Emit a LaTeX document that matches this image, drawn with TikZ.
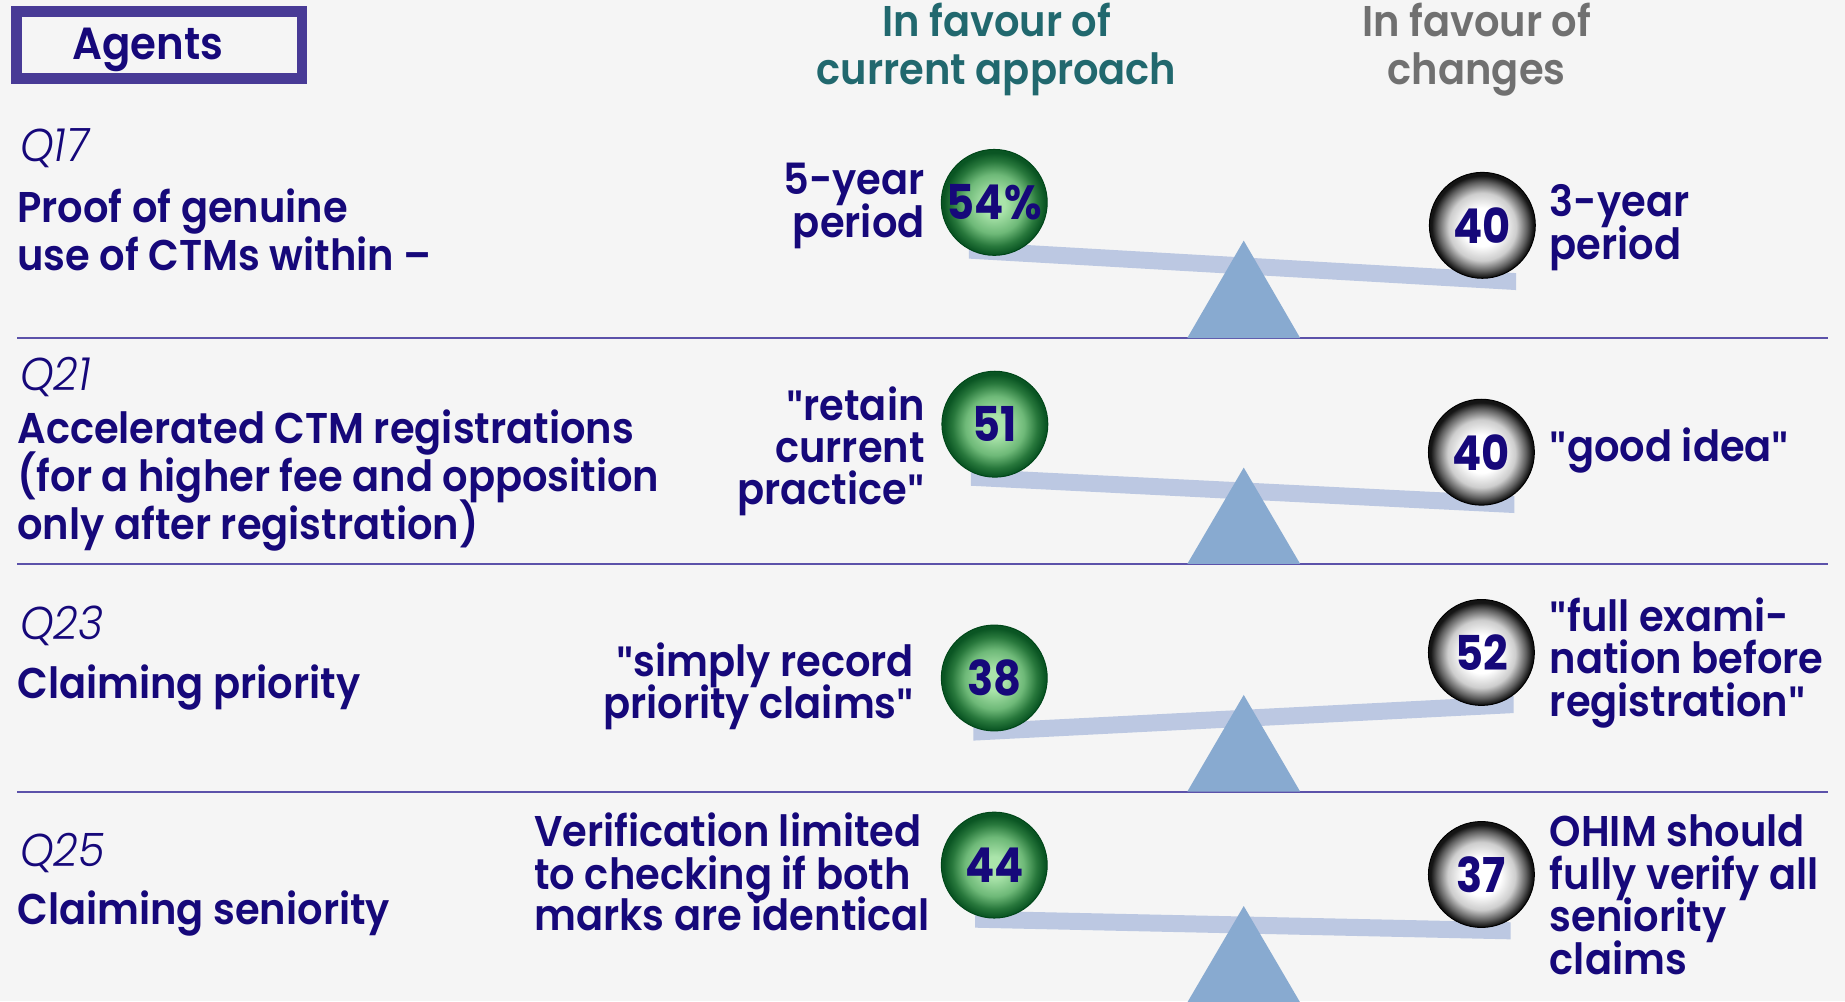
\documentclass[tikz,border=0pt]{standalone}
\usepackage{fontspec}
\setmainfont{Poppins}[FakeStretch=0.93, BoldFont={Poppins SemiBold}, ItalicFont={Poppins Light Italic}]
\newfontfamily\numfamily{Poppins Bold}[FakeStretch=0.9]
\newfontfamily\quotefont{Liberation Sans}[FakeStretch=0.85]
\definecolor{navy}{RGB}{22,8,122}
\definecolor{hdteal}{RGB}{33,104,110}
\definecolor{hdgray}{RGB}{112,112,112}
\definecolor{boxcol}{RGB}{72,58,150}
\definecolor{sepcol}{RGB}{92,82,170}
\definecolor{beamcol}{RGB}{188,200,226}
\definecolor{fulcol}{RGB}{136,170,208}
\definecolor{bgcol}{RGB}{245,245,245}
\definecolor{gA}{RGB}{170,228,170}
\definecolor{gB}{RGB}{110,185,120}
\definecolor{gC}{RGB}{40,120,60}
\definecolor{gD}{RGB}{10,85,35}
\definecolor{gE}{RGB}{0,70,25}
\definecolor{kB}{RGB}{205,205,205}
\definecolor{kC}{RGB}{95,95,95}
\definecolor{kD}{RGB}{20,20,20}
\pgfdeclareradialshading{greenball}{\pgfpoint{0bp}{-1bp}}{color(0bp)=(gA); color(5bp)=(gA); color(14bp)=(gB); color(20bp)=(gC); color(24bp)=(gD); color(50bp)=(gD)}
\pgfdeclareradialshading{grayball}{\pgfpoint{0bp}{-1bp}}{color(0bp)=(white); color(9bp)=(white); color(16bp)=(kB); color(21bp)=(kC); color(24bp)=(kD); color(50bp)=(kD)}
\newcommand{\bodyfont}{\fontsize{43}{43}\selectfont\bfseries}
\newcommand{\agentfont}{\fontsize{45}{45}\selectfont\bfseries}
\newcommand{\numfont}{\fontsize{48}{48}\selectfont\numfamily}
\newcommand{\qlabfont}{\fontsize{46}{46}\selectfont\itshape}
\newcommand{\dq}{{\quotefont\bfseries"}}
\tikzset{
  ltext/.style={anchor=base west, inner sep=0pt, text=navy, font=\bodyfont, text height=31pt, text depth=0pt},
  rtext/.style={anchor=base east, inner sep=0pt, text=navy, font=\bodyfont, text height=31pt, text depth=0pt},
  qlab/.style={anchor=base west, inner sep=0pt, text=navy, font=\qlabfont},
  hteal/.style={anchor=base, inner sep=0pt, text=hdteal, font=\bodyfont, text height=31pt, text depth=0pt},
  hgray/.style={anchor=base, inner sep=0pt, text=hdgray, font=\bodyfont, text height=31pt, text depth=0pt},
  agentsty/.style={anchor=base, inner sep=0pt, text=navy, font=\agentfont},
  sepline/.style={draw=sepcol, line width=2pt},
  beamsty/.style={fill=beamcol},
  fulcrum/.style={fill=fulcol},
  gball/.style={circle, minimum size=105.9pt, inner sep=0pt, shading=greenball, draw=gE, line width=1pt, text=navy, font=\numfont},
  kball/.style={circle, minimum size=105.9pt, inner sep=0pt, shading=grayball, draw=black, line width=1pt, text=navy, font=\numfont}
}
\begin{document}
\begin{tikzpicture}[x=1.1767pt,y=-1.1767pt]
\fill[bgcol] (0,0) rectangle (1568,851);
\useasboundingbox (0,0) rectangle (1568,851);
% title box
\draw[boxcol, line width=10.6pt] (13.85,9.6) rectangle (256.7,66.7);
\node[agentsty] (agents) at (125.6,50.4) {Agents};
% headers
\node[hteal] (hcurA) at (847,30.6) {In favour of};
\node[hteal] (hcurB) at (847,71.4) {current approach};
\node[hgray] (hchgA) at (1255,30.6) {In favour of};
\node[hgray] (hchgB) at (1255,71.4) {changes};
% separators
\draw[sepline] (14.6,287.3) -- (1553.6,287.3);
\draw[sepline] (14.6,479.3) -- (1553.6,479.3);
\draw[sepline] (14.6,672.8) -- (1553.6,672.8);
% left column
\node[qlab] (qA) at (17,137.5) {Q17};
\node[ltext] (tA1) at (14.6,189) {Proof of genuine};
\node[ltext] (tA2) at (14.6,230) {use of CTMs within \textendash};
\node[qlab] (qB) at (17,332) {Q21};
\node[ltext] (tB1) at (14.6,377) {Accelerated CTM registrations};
\node[ltext] (tB2) at (14.6,418) {(for a higher fee and opposition};
\node[ltext] (tB3) at (14.6,458.5) {only after registration)};
\node[qlab] (qC) at (17,543.6) {Q23};
\node[ltext] (tC1) at (14.6,593.7) {Claiming priority};
\node[qlab] (qD) at (17,736) {Q25};
\node[ltext] (tD1) at (14.6,786) {Claiming seniority};
% beams
\fill[beamsty] (823.5,205.4) -- (1288.5,232.1) -- (1288.5,246.5) -- (823.5,219.8) -- cycle;
\fill[beamsty] (825,398.5) -- (1287,421.5) -- (1287,436) -- (825,412.8) -- cycle;
\fill[beamsty] (827.3,615) -- (1286.3,591.5) -- (1286.3,606) -- (827.3,629.4) -- cycle;
\fill[beamsty] (828.8,774) -- (1283.8,783.8) -- (1283.8,798.3) -- (828.8,788.4) -- cycle;
% fulcrums
\fill[fulcrum] (1009,287.3) -- (1057,204.5) -- (1105,287.3) -- cycle;
\fill[fulcrum] (1009,479.3) -- (1057,397.4) -- (1105,479.3) -- cycle;
\fill[fulcrum] (1009,672.8) -- (1057,590.6) -- (1105,672.8) -- cycle;
\fill[fulcrum] (1009,852) -- (1057,770) -- (1105,852) -- cycle;
% balls
\node[gball] (gA17) at (845,172) {54\%};
\node[kball] (kA17) at (1259.8,191.5) {40};
\node[gball] (gB21) at (845.5,360.5) {51};
\node[kball] (kB21) at (1259,384.3) {40};
\node[gball] (gC23) at (845,576.2) {38};
\node[kball] (kC23) at (1259,554.5) {52};
\node[gball] (gD25) at (845,735.2) {44};
\node[kball] (kD25) at (1259,743.2) {37};
% middle labels
\node[rtext] (mA1) at (786,165.7) {5-year};
\node[rtext] (mA2) at (786,201.7) {period};
\node[rtext] (mB1) at (786,357) {\dq retain};
\node[rtext] (mB2) at (786,393) {current};
\node[rtext] (mB3) at (786,429) {practice\dq};
\node[rtext] (mC1) at (777,575) {\dq simply record};
\node[rtext] (mC2) at (777,611) {priority claims\dq};
\node[ltext] (mD1) at (454,719) {Verification limited};
\node[ltext] (mD2) at (454,755.7) {to checking if both};
\node[ltext] (mD3) at (454,791) {marks are identical};
% right labels
\node[ltext] (rA1) at (1317,184.2) {3-year};
\node[ltext] (rA2) at (1317,220.4) {period};
\node[ltext] (rB1) at (1317,392.3) {\dq good idea\dq};
\node[ltext] (rC1) at (1317,536.5) {\dq full exami-};
\node[ltext] (rC2) at (1317,572.5) {nation before};
\node[ltext] (rC3) at (1317,608.5) {registration\dq};
\node[ltext] (rD1) at (1317,719.5) {OHIM should};
\node[ltext] (rD2) at (1317,756) {fully verify all};
\node[ltext] (rD3) at (1317,792) {seniority};
\node[ltext] (rD4) at (1317,828) {claims};
\end{tikzpicture}
\end{document}
